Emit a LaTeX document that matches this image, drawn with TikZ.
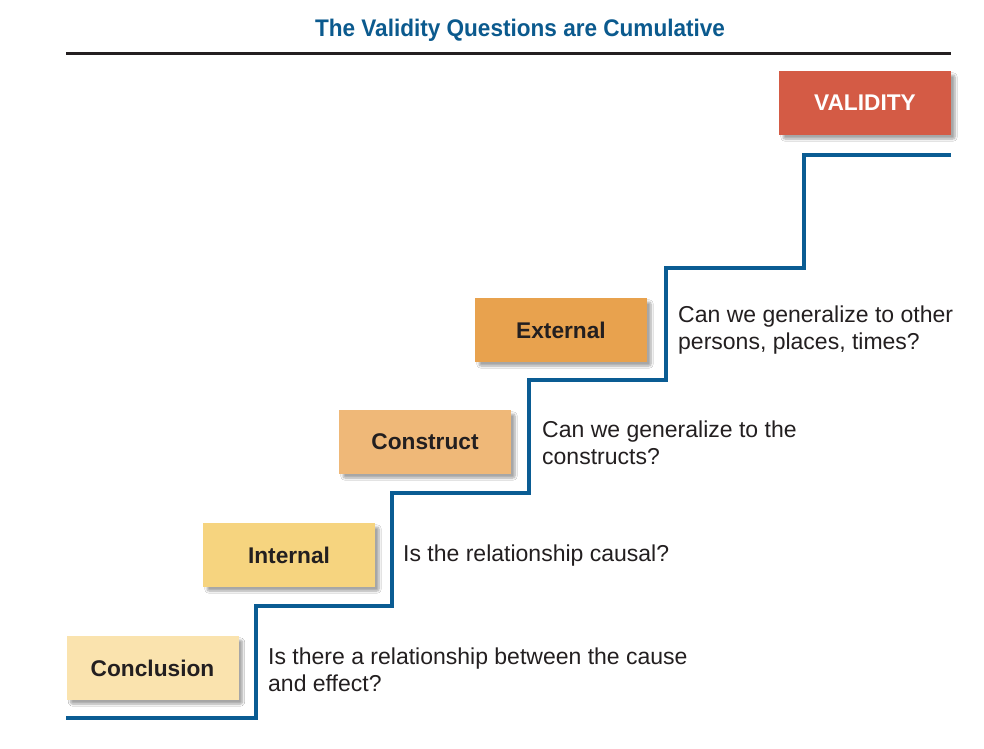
\documentclass[tikz,border=0pt]{standalone}
\usepackage{fontspec}
\setmainfont{Liberation Sans}
\newfontfamily\titlefont[FakeStretch=0.94]{Liberation Sans}
\usetikzlibrary{shadows.blur}
\definecolor{titleblue}{HTML}{0B5A8E}
\definecolor{stairblue}{HTML}{0A5C93}
\definecolor{inkgray}{HTML}{231F20}
\definecolor{cConclusion}{HTML}{FAE3AE}
\definecolor{cInternal}{HTML}{F6D47F}
\definecolor{cConstruct}{HTML}{EFB878}
\definecolor{cExternal}{HTML}{E8A24E}
\definecolor{cValidity}{HTML}{D45B45}
\tikzset{
  levelbox/.style={minimum width=172pt, minimum height=64pt, inner sep=0pt,
    font=\fontsize{22.7}{26}\selectfont\bfseries, text=inkgray,
    blur shadow={shadow xshift=4pt, shadow yshift=-4pt, shadow blur steps=8,
      shadow blur extra rounding=2pt, shadow opacity=35}},
  question/.style={anchor=west, align=left, inner sep=0pt,
    font=\fontsize{23}{27}\selectfont, text=inkgray},
  stair/.style={draw=stairblue, line width=4pt, line join=miter}
}
\begin{document}
\begin{tikzpicture}[x=1pt, y=-1pt]
\useasboundingbox[fill=white] (0,0) rectangle (984,748);
% heading and rule
\node[font=\titlefont\fontsize{24}{28}\selectfont\bfseries, text=titleblue] (title) at (520,30) {The Validity Questions are Cumulative};
\draw[inkgray, line width=3pt] (66,53) -- (951,53);
% staircase
\draw[stair] (66,718) -- (256,718) -- (256,606) -- (392,606) -- (392,493)
  -- (529,493) -- (529,380) -- (666,380) -- (666,268) -- (804,268)
  -- (804,155) -- (951,155);
% level boxes
\node[levelbox, fill=cConclusion] (conclusion) at (152.5,668) {Conclusion};
\node[levelbox, fill=cInternal] (internal) at (289,555) {Internal};
\node[levelbox, fill=cConstruct] (construct) at (425,442) {Construct};
\node[levelbox, fill=cExternal] (external) at (561,330) {External};
\node[levelbox, fill=cValidity, text=white] (validity) at (865,103) {VALIDITY};
% questions
\node[question] (q1) at (268,670) {Is there a relationship between the cause\\and effect?};
\node[question] (q2) at (403,556) {Is the relationship causal?};
\node[question] (q3) at (542,443) {Can we generalize to the\\constructs?};
\node[question] (q4) at (678,330) {Can we generalize to other\\persons, places, times?};
\end{tikzpicture}
\end{document}
